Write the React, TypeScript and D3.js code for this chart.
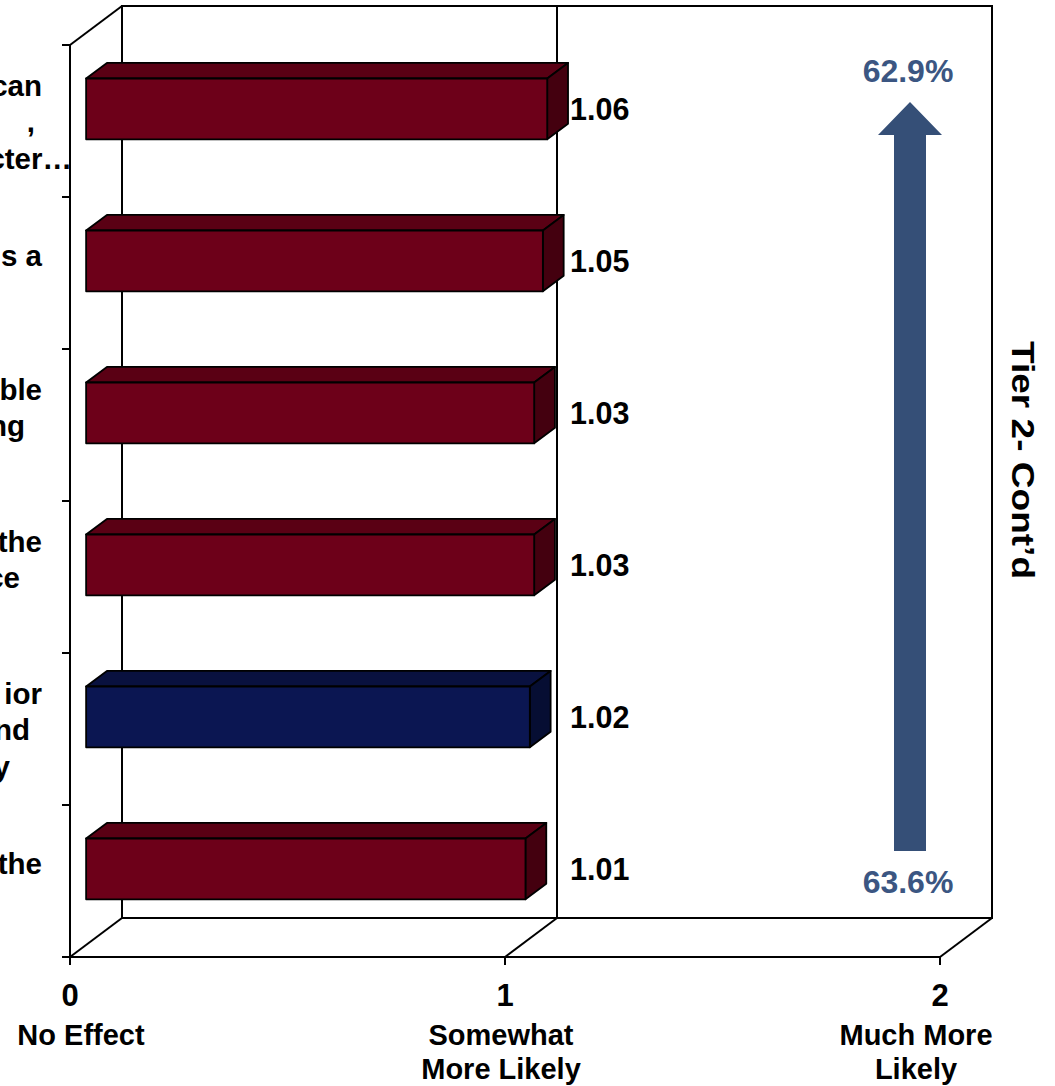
import React from "react";
import * as d3 from "d3";

// ---- data ----
const categoryLines: string[][] = [
  ["can", ",", "cter…"],
  ["s a", ""],
  ["ble", "ng", ""],
  ["the", "ce", ""],
  ["ior", "nd", "y"],
  ["the", ""],
];
const values: number[] = [1.06, 1.05, 1.03, 1.03, 1.02, 1.01];
const highlighted: boolean[] = [false, false, false, false, true, false];
const tickValues: number[] = [0, 1, 2];
const tickNames: string[][] = [["No Effect"], ["Somewhat", "More Likely"], ["Much More", "Likely"]];
const arrowTopLabel = "62.9%";
const arrowBottomLabel = "63.6%";
const sideTitle = "Tier 2- Cont’d";

// ---- layout ----
const W = 1055;
const H = 1086;
const FONT = "Arial, 'Liberation Sans', Helvetica, sans-serif";
const DX = 52; // depth vector
const DY = 39;
const D1 = 0.31; // bar front depth
const D2 = 0.71; // bar back depth
const plotTop = 45;
const plotBottom = 957;

// fragment right edges (the long labels are clipped by the left page edge)
const fragEnds: number[][] = [
  [42, 35, 72],
  [42, 0],
  [42, 25, 0],
  [42, 20, 0],
  [42, 30, 10],
  [42, 0],
];

const colors = {
  red: { front: "#6D0019", top: "#5A0014", side: "#44000F" },
  blue: { front: "#0B1652", top: "#09113F", side: "#060E33" },
};

export default function App() {
  const x = d3.scaleLinear().domain([0, 2]).range([70, 940]);
  const y = d3
    .scaleBand<number>()
    .domain(values.map((_, i) => i))
    .range([plotTop, plotBottom])
    .paddingInner(0.6)
    .paddingOuter(0.3);
  const step = y.step();
  const bw = y.bandwidth();

  const P = (v: number, yy: number, d: number): [number, number] => [x(v) + d * DX, yy - d * DY];
  const poly = (pts: [number, number][]) => pts.map((p) => p.join(",")).join(" ");

  const backTop = plotTop - DY;
  const backBottom = plotBottom - DY;
  const labelX = x(d3.max(values) as number) + D2 * DX + 2;

  const stroke = "#000";
  const sw = 2;

  const boundaries = d3.range(values.length + 1).map((i) => plotTop + i * step);

  const arrowX = 910;
  const arrowTip = 102;
  const headBase = 135;
  const shaftBottom = 851;
  const arrowColor = "#354F77";

  const nameX = [81, 501, 916];

  return (
    <div style={{ position: "absolute", left: 0, top: 0 }}>
      <svg width={W} height={H} style={{ display: "block", background: "#fff" }} fontFamily={FONT}>
        {/* back wall */}
        <rect x={x(0) + DX} y={backTop} width={x(2) - x(0)} height={backBottom - backTop} fill="#fff" stroke={stroke} strokeWidth={sw} />
        {/* gridlines on back wall + floor */}
        {tickValues.map((v) => (
          <g key={"g" + v}>
            <line x1={x(v) + DX} x2={x(v) + DX} y1={backTop} y2={backBottom} stroke={stroke} strokeWidth={sw} />
            <line x1={x(v)} y1={plotBottom} x2={x(v) + DX} y2={backBottom} stroke={stroke} strokeWidth={sw} />
          </g>
        ))}
        {/* side wall */}
        <line x1={x(0)} y1={plotTop} x2={x(0) + DX} y2={backTop} stroke={stroke} strokeWidth={sw} />
        <line x1={x(0)} y1={plotTop} x2={x(0)} y2={plotBottom} stroke={stroke} strokeWidth={sw} />
        {/* floor front edge */}
        <line x1={x(0)} y1={plotBottom} x2={x(2)} y2={plotBottom} stroke={stroke} strokeWidth={sw} />
        {/* category ticks */}
        {boundaries.map((b, i) => (
          <line key={"ct" + i} x1={x(0) - 8} x2={x(0)} y1={b} y2={b} stroke={stroke} strokeWidth={sw} />
        ))}
        {/* value ticks */}
        {tickValues.map((v) => (
          <line key={"vt" + v} x1={x(v)} x2={x(v)} y1={plotBottom} y2={plotBottom + 8} stroke={stroke} strokeWidth={sw} />
        ))}

        {/* bars */}
        {values.map((v, i) => {
          const yt = y(i) as number;
          const yb = yt + bw;
          const c = highlighted[i] ? colors.blue : colors.red;
          const front = [P(0, yt, D1), P(v, yt, D1), P(v, yb, D1), P(0, yb, D1)] as [number, number][];
          const top = [P(0, yt, D1), P(v, yt, D1), P(v, yt, D2), P(0, yt, D2)] as [number, number][];
          const side = [P(v, yt, D1), P(v, yt, D2), P(v, yb, D2), P(v, yb, D1)] as [number, number][];
          return (
            <g key={"bar" + i} stroke="#000" strokeWidth={1.8} strokeLinejoin="round">
              <polygon points={poly(top)} fill={c.top} />
              <polygon points={poly(side)} fill={c.side} />
              <polygon points={poly(front)} fill={c.front} />
            </g>
          );
        })}

        {/* value labels */}
        {values.map((v, i) => {
          const cy = (y(i) as number) + bw / 2 - D1 * DY;
          return (
            <text key={"vl" + i} x={labelX} y={cy + 11} fontSize={30.5} fontWeight="bold" fill="#000">
              {v.toFixed(2)}
            </text>
          );
        })}

        {/* category labels (clipped) */}
        {categoryLines.map((lines, i) => {
          const cy = (y(i) as number) + bw / 2;
          const n = lines.length;
          const lh = 36.5;
          return lines.map((ln, k) =>
            ln ? (
              <text
                key={"cl" + i + "_" + k}
                x={fragEnds[i][k]}
                y={cy + 11 + (k - (n - 1) / 2) * lh}
                textAnchor="end"
                fontSize={29.5}
                fontWeight="bold"
                fill="#000"
              >
                {ln}
              </text>
            ) : null
          );
        })}

        {/* value axis tick labels */}
        {tickValues.map((v, i) => (
          <g key={"tl" + v}>
            <text x={x(v)} y={1006} textAnchor="middle" fontSize={31} fontWeight="bold">
              {String(v)}
            </text>
            {tickNames[i].map((t, k) => (
              <text key={k} x={nameX[i]} y={1045 + k * 34} textAnchor="middle" fontSize={29} fontWeight="bold">
                {t}
              </text>
            ))}
          </g>
        ))}

        {/* arrow */}
        <polygon
          points={poly([
            [arrowX, arrowTip],
            [arrowX + 32, headBase],
            [arrowX + 16, headBase],
            [arrowX + 16, shaftBottom],
            [arrowX - 16, shaftBottom],
            [arrowX - 16, headBase],
            [arrowX - 32, headBase],
          ])}
          fill={arrowColor}
        />
        <text x={908} y={82} textAnchor="middle" fontSize={32} fontWeight="bold" fill="#3B5682">
          {arrowTopLabel}
        </text>
        <text x={908} y={893} textAnchor="middle" fontSize={32} fontWeight="bold" fill="#3B5682">
          {arrowBottomLabel}
        </text>

        {/* side title */}
        <text
          transform={`translate(1012, 460) rotate(90)`}
          textAnchor="middle"
          fontSize={31}
          fontWeight="bold"
          fill="#000"
          textLength={238}
          lengthAdjust="spacingAndGlyphs"
        >
          {sideTitle}
        </text>
      </svg>
    </div>
  );
}
